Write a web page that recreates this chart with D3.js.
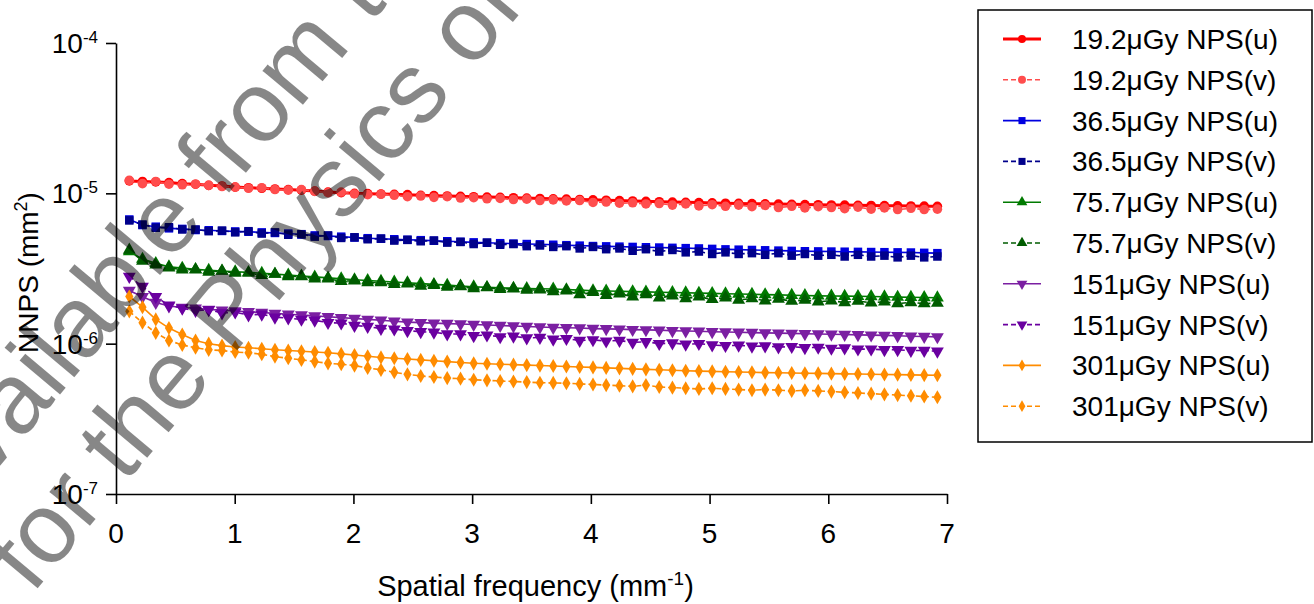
<!DOCTYPE html>
<html>
<head>
<meta charset="utf-8">
<script src="https://cdn.jsdelivr.net/npm/d3@7"></script>
<style>
  body { margin: 0; background: #fff; }
  svg text { font-family: "Liberation Sans", Arial, sans-serif; }
</style>
</head>
<body>
<div id="chart"></div>
<script>
// spatial frequency samples (mm^-1)
const freq = [0.112, 0.223, 0.335, 0.446, 0.558, 0.670, 0.781, 0.893, 1.004, 1.116,
  1.228, 1.339, 1.451, 1.562, 1.674, 1.786, 1.897, 2.009, 2.120, 2.232,
  2.344, 2.455, 2.567, 2.678, 2.790, 2.902, 3.013, 3.125, 3.236, 3.348,
  3.460, 3.571, 3.683, 3.794, 3.906, 4.018, 4.129, 4.241, 4.352, 4.464,
  4.576, 4.687, 4.799, 4.910, 5.022, 5.134, 5.245, 5.357, 5.468, 5.580,
  5.692, 5.803, 5.915, 6.026, 6.138, 6.250, 6.361, 6.473, 6.584, 6.696,
  6.808, 6.919];

// NNPS values, in units of 1e-6 mm^2
const unit = 1e-6;
const nps192u = [12.1, 12.0, 11.9, 11.8, 11.6, 11.5, 11.3, 11.2, 11.0, 10.9,
  10.8, 10.7, 10.6, 10.5, 10.35, 10.2, 10.1, 10.0, 9.95, 9.9,
  9.85, 9.8, 9.7, 9.65, 9.6, 9.55, 9.5, 9.45, 9.4, 9.35,
  9.3, 9.25, 9.2, 9.15, 9.1, 9.05, 9.0, 8.95, 8.9, 8.85,
  8.8, 8.75, 8.72, 8.68, 8.64, 8.6, 8.57, 8.54, 8.51, 8.48,
  8.45, 8.42, 8.4, 8.37, 8.35, 8.33, 8.3, 8.28, 8.26, 8.24,
  8.22, 8.2];
const nps192v = [12.2, 11.6, 12.0, 11.5, 11.4, 11.5, 11.3, 11.1, 11.0, 10.8,
  10.9, 10.6, 10.5, 10.6, 10.3, 10.1, 10.2, 9.9, 9.8, 9.85,
  9.7, 9.5, 9.6, 9.4, 9.5, 9.3, 9.35, 9.2, 9.25, 9.1,
  9.15, 8.95, 9.05, 8.9, 8.95, 8.7, 8.75, 8.6, 8.65, 8.5,
  8.55, 8.35, 8.5, 8.25, 8.4, 8.2, 8.35, 8.15, 8.3, 8.05,
  8.2, 8.0, 8.15, 8.05, 7.9, 8.1, 7.85, 8.0, 7.8, 7.95,
  7.8, 7.85];
const nps365u = [6.7, 6.15, 6.0, 5.85, 5.8, 5.7, 5.68, 5.62, 5.58, 5.55,
  5.5, 5.45, 5.4, 5.32, 5.25, 5.2, 5.15, 5.08, 5.03, 4.99,
  4.95, 4.91, 4.88, 4.84, 4.8, 4.76, 4.72, 4.69, 4.66, 4.63,
  4.6, 4.58, 4.55, 4.52, 4.49, 4.46, 4.44, 4.42, 4.4, 4.38,
  4.36, 4.34, 4.32, 4.3, 4.27, 4.24, 4.22, 4.2, 4.18, 4.16,
  4.14, 4.12, 4.11, 4.1, 4.09, 4.08, 4.07, 4.06, 4.05, 4.04,
  4.02, 4.0];
const nps365v = [6.6, 6.2, 5.9, 5.95, 5.75, 5.75, 5.6, 5.65, 5.5, 5.6,
  5.4, 5.5, 5.3, 5.35, 5.15, 5.25, 5.05, 5.1, 4.95, 5.0,
  4.85, 4.9, 4.8, 4.85, 4.7, 4.75, 4.6, 4.7, 4.55, 4.6,
  4.45, 4.5, 4.4, 4.45, 4.3, 4.4, 4.25, 4.3, 4.15, 4.25,
  4.1, 4.2, 4.05, 4.1, 3.95, 4.05, 3.95, 4.0, 3.9, 4.0,
  3.85, 3.95, 3.85, 3.9, 3.8, 3.9, 3.8, 3.85, 3.75, 3.85,
  3.75, 3.8];
const nps757u = [4.1, 3.65, 3.42, 3.25, 3.18, 3.12, 3.08, 3.04, 3.01, 2.98,
  2.94, 2.9, 2.86, 2.82, 2.78, 2.74, 2.7, 2.66, 2.63, 2.6,
  2.57, 2.54, 2.51, 2.48, 2.45, 2.42, 2.39, 2.37, 2.35, 2.34,
  2.33, 2.32, 2.31, 2.29, 2.27, 2.25, 2.24, 2.23, 2.22, 2.21,
  2.2, 2.19, 2.18, 2.17, 2.16, 2.15, 2.14, 2.13, 2.12, 2.11,
  2.1, 2.09, 2.08, 2.075, 2.07, 2.065, 2.06, 2.05, 2.04, 2.035,
  2.03, 2.02];
const nps757v = [4.2, 3.55, 3.35, 3.2, 3.1, 3.1, 3.0, 3.05, 2.95, 2.95,
  2.85, 2.9, 2.8, 2.8, 2.7, 2.7, 2.6, 2.62, 2.55, 2.55,
  2.48, 2.5, 2.42, 2.45, 2.38, 2.4, 2.33, 2.36, 2.3, 2.32,
  2.27, 2.28, 2.22, 2.25, 2.12, 2.2, 2.1, 2.15, 2.05, 2.12,
  2.02, 2.08, 2.0, 2.05, 1.97, 2.02, 1.95, 2.0, 1.93, 1.98,
  1.92, 1.95, 1.9, 1.93, 1.88, 1.92, 1.87, 1.9, 1.85, 1.88,
  1.85, 1.86];
const nps151u = [2.26, 2.05, 1.88, 1.78, 1.74, 1.72, 1.69, 1.67, 1.65, 1.63,
  1.61, 1.59, 1.57, 1.55, 1.53, 1.51, 1.49, 1.47, 1.45, 1.43,
  1.41, 1.39, 1.38, 1.37, 1.36, 1.35, 1.34, 1.33, 1.32, 1.31,
  1.30, 1.29, 1.28, 1.275, 1.27, 1.26, 1.255, 1.25, 1.24, 1.235,
  1.23, 1.22, 1.215, 1.21, 1.2, 1.195, 1.19, 1.185, 1.18, 1.175,
  1.17, 1.165, 1.16, 1.155, 1.15, 1.145, 1.14, 1.135, 1.13, 1.12,
  1.115, 1.11];
const nps151v = [2.8, 2.4, 2.05, 1.8, 1.72, 1.66, 1.68, 1.6, 1.62, 1.55,
  1.57, 1.5, 1.48, 1.45, 1.43, 1.38, 1.37, 1.32, 1.3, 1.26,
  1.25, 1.22, 1.2, 1.19, 1.16, 1.16, 1.13, 1.14, 1.11, 1.12,
  1.09, 1.1, 1.07, 1.08, 1.05, 1.06, 1.04, 1.05, 1.02, 1.03,
  1.0, 1.01, 0.99, 1.0, 0.98, 0.97, 0.975, 0.96, 0.965, 0.95,
  0.955, 0.94, 0.945, 0.93, 0.935, 0.92, 0.92, 0.91, 0.91, 0.9,
  0.9, 0.89];
const nps301u = [2.06, 1.75, 1.45, 1.27, 1.15, 1.05, 1.0, 0.97, 0.95, 0.94,
  0.925, 0.91, 0.9, 0.89, 0.88, 0.87, 0.855, 0.84, 0.825, 0.81,
  0.8, 0.79, 0.78, 0.77, 0.76, 0.75, 0.74, 0.735, 0.73, 0.725,
  0.72, 0.715, 0.71, 0.705, 0.7, 0.695, 0.69, 0.685, 0.68, 0.675,
  0.67, 0.665, 0.66, 0.657, 0.654, 0.651, 0.648, 0.645, 0.642, 0.64,
  0.638, 0.636, 0.634, 0.632, 0.63, 0.628, 0.626, 0.624, 0.622, 0.62,
  0.618, 0.616];
const nps301v = [1.64, 1.38, 1.18, 1.05, 0.98, 0.94, 0.91, 0.9, 0.88, 0.87,
  0.85, 0.82, 0.8, 0.78, 0.76, 0.74, 0.73, 0.715, 0.69, 0.67,
  0.645, 0.625, 0.61, 0.6, 0.59, 0.585, 0.575, 0.57, 0.565, 0.56,
  0.555, 0.55, 0.548, 0.545, 0.54, 0.535, 0.53, 0.525, 0.52, 0.53,
  0.515, 0.51, 0.505, 0.5, 0.505, 0.5, 0.495, 0.49, 0.495, 0.49,
  0.485, 0.49, 0.485, 0.48, 0.475, 0.47, 0.465, 0.46, 0.455, 0.45,
  0.445, 0.44];

const seriesNames = ['19.2\u03bcGy NPS(u)', '19.2\u03bcGy NPS(v)', '36.5\u03bcGy NPS(u)', '36.5\u03bcGy NPS(v)',
  '75.7\u03bcGy NPS(u)', '75.7\u03bcGy NPS(v)', '151\u03bcGy NPS(u)', '151\u03bcGy NPS(v)',
  '301\u03bcGy NPS(u)', '301\u03bcGy NPS(v)'];
const seriesValues = [nps192u, nps192v, nps365u, nps365v, nps757u, nps757v, nps151u, nps151v, nps301u, nps301v];
const xTicks = [0, 1, 2, 3, 4, 5, 6, 7];
const yTickExps = [-4, -5, -6, -7];

// styling per series
const colors = ['#ff0000', '#ff4d4d', '#0000e0', '#00008b', '#007a00', '#005c00', '#7b1fa2', '#6a00a0', '#ff8c00', '#ff8c00'];
const shapes = ['circle', 'circle', 'square', 'square', 'up', 'up', 'down', 'down', 'diamond', 'diamond'];
const dashed = [false, true, false, true, false, true, false, true, false, true];

const width = 1314, height = 604;
const plotLeft = 116, plotRight = 947, plotTop = 43, plotBottom = 494;

const svg = d3.select('#chart').append('svg')
  .attr('width', width)
  .attr('height', height);

const x = d3.scaleLinear().domain([0, 7]).range([plotLeft, plotRight]);
const y = d3.scaleLog().domain([1e-7, 1e-4]).range([plotBottom, plotTop]);

// axes
svg.append('g')
  .attr('transform', `translate(0,${plotBottom})`)
  .call(d3.axisBottom(x).tickValues(xTicks).tickSize(10).tickSizeOuter(0).tickFormat(''));
svg.append('g')
  .attr('transform', `translate(${plotLeft},0)`)
  .call(d3.axisLeft(y).tickValues(yTickExps.map(e => Math.pow(10, e))).tickSize(10).tickSizeOuter(0).tickFormat(''));
svg.selectAll('.domain, .tick line').attr('stroke', '#000').attr('stroke-width', 1.6);

xTicks.forEach(t => {
  svg.append('text')
    .attr('x', x(t)).attr('y', 543)
    .attr('text-anchor', 'middle')
    .style('font-size', '28px')
    .text(t);
});

yTickExps.forEach(e => {
  const lbl = svg.append('text')
    .attr('x', 98).attr('y', y(Math.pow(10, e)) + 10)
    .attr('text-anchor', 'end')
    .style('font-size', '28px');
  lbl.append('tspan').text('10');
  lbl.append('tspan').attr('dy', -10).style('font-size', '17px').text(e);
});

// axis titles
const xt = svg.append('text')
  .attr('x', (plotLeft + plotRight) / 2 + 4).attr('y', 596)
  .attr('text-anchor', 'middle')
  .style('font-size', '29px');
xt.append('tspan').text('Spatial frequency (mm');
xt.append('tspan').attr('dy', -11).style('font-size', '19px').text('-1');
xt.append('tspan').attr('dy', 11).text(')');

const yt = svg.append('text')
  .attr('transform', `translate(38,${(plotTop + plotBottom) / 2 + 4}) rotate(-90)`)
  .attr('text-anchor', 'middle')
  .style('font-size', '28px');
yt.append('tspan').text('NNPS (mm');
yt.append('tspan').attr('dy', -11).style('font-size', '18px').text('2');
yt.append('tspan').attr('dy', 11).text(')');

// marker shapes
function markerPath(shape, size) {
  if (shape === 'circle') return d3.symbol(d3.symbolCircle, size)();
  if (shape === 'square') return d3.symbol(d3.symbolSquare, size)();
  if (shape === 'diamond') return d3.symbol(d3.symbolDiamond, size * 0.8)();
  return d3.symbol(d3.symbolTriangle, size)();
}

const line = d3.line()
  .x(d => x(d[0]))
  .y(d => y(d[1] * unit));

seriesValues.forEach((vals, i) => {
  const pts = freq.map((f, j) => [f, vals[j]]);
  const g = svg.append('g');
  g.append('path')
    .datum(pts)
    .attr('d', line)
    .attr('fill', 'none')
    .attr('stroke', colors[i])
    .attr('stroke-width', i === 0 ? 3 : 1.6)
    .attr('stroke-dasharray', dashed[i] ? '5,3' : null);
  g.selectAll('path.mk')
    .data(pts)
    .join('path')
    .attr('class', 'mk')
    .attr('d', markerPath(shapes[i], 72))
    .attr('fill', colors[i])
    .attr('transform', d => `translate(${x(d[0])},${y(d[1] * unit)})${shapes[i] === 'down' ? ' rotate(180)' : ''}`);
});

// legend
const legend = svg.append('g');
legend.append('rect')
  .attr('x', 978).attr('y', 10)
  .attr('width', 334).attr('height', 432)
  .attr('fill', '#fff')
  .attr('stroke', '#000')
  .attr('stroke-width', 1.5);

seriesNames.forEach((name, i) => {
  const ly = 39 + i * 40.8;
  legend.append('line')
    .attr('x1', 1003).attr('x2', 1041)
    .attr('y1', ly).attr('y2', ly)
    .attr('stroke', colors[i])
    .attr('stroke-width', i === 0 ? 3 : 1.6)
    .attr('stroke-dasharray', dashed[i] ? '5,3' : null);
  legend.append('path')
    .attr('d', markerPath(shapes[i], 50))
    .attr('fill', colors[i])
    .attr('transform', `translate(1022,${ly})${shapes[i] === 'down' ? ' rotate(180)' : ''}`);
  legend.append('text')
    .attr('x', 1072).attr('y', ly + 10)
    .style('font-size', '28px')
    .text(name);
});

// watermark over the chart
const wm = svg.append('g')
  .style('pointer-events', 'none')
  .attr('fill', '#000')
  .attr('fill-opacity', 0.47);
wm.append('text')
  .attr('transform', 'translate(-48,523) rotate(-50)')
  .style('font-size', '100px')
  .text('available from the Institute');
wm.append('text')
  .attr('transform', 'translate(32,595) rotate(-50)')
  .style('font-size', '100px')
  .text('for the Physics of Medicine');
</script>
</body>
</html>
